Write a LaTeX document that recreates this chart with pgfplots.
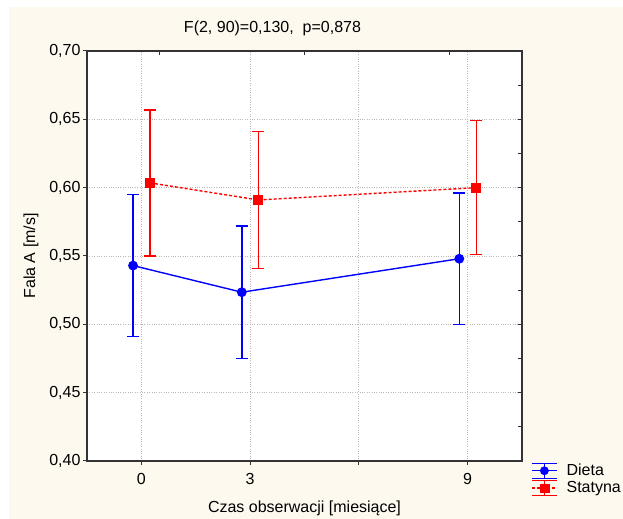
\documentclass[border=0pt]{standalone}
\usepackage{pgfplots}
\pgfplotsset{compat=1.18}
\usepackage{fontspec}
\setmainfont{Liberation Sans}
\definecolor{cream}{RGB}{253,249,239}
\definecolor{gridgray}{RGB}{185,185,185}
\definecolor{myblue}{RGB}{0,0,255}
\definecolor{myred}{RGB}{255,0,0}
\newcommand{\chartfont}{\fontsize{16bp}{19bp}\selectfont}
\begin{document}
\begin{tikzpicture}[x=1bp,y=1bp]
\fill[white] (0,0) rectangle (623,519);
\fill[cream] (9,0) rectangle (623,512);
\node[anchor=base, font=\chartfont] at (272.5,486.3) {F(2, 90)=0,130,\ \ p=0,878};
\begin{axis}[
  at={(87bp,58bp)}, anchor=south west,
  scale only axis, width=435bp, height=410bp,
  xmin=-1.5, xmax=10.5, ymin=0.40, ymax=0.70,
  xtick={0,3,6,9}, xticklabels={0,3,,9},
  ytick={0.40,0.45,0.50,0.55,0.60,0.65,0.70},
  xtick pos=left, ytick pos=left,
  tick align=outside, major tick length=4bp,
  grid=major, major grid style={dotted, gridgray, line width=0.8bp},
  axis line style={black!80, line width=1.3bp},
  tick style={black!80, line width=1bp},
  axis background/.style={fill=white},
  tick label style={font=\chartfont},
  xticklabel style={yshift=-5bp},
  yticklabel style={xshift=1bp},
  label style={font=\chartfont},
  xlabel={Czas obserwacji [miesiące]},
  xlabel style={yshift=-9bp},
  ylabel={Fala A [m/s]},
  ylabel style={yshift=4bp},
  /pgf/number format/.cd, use comma, fixed, fixed zerofill, precision=2, assume math mode=true,
  /pgfplots/.cd,
  legend style={at={(rel axis cs:1,0)}, anchor=north west, xshift=9bp, yshift=-1bp,
    draw=none, fill=none, font=\chartfont, inner sep=0pt, row sep=0.5bp, column sep=7bp,
    nodes={inner sep=2bp}},
  legend cell align=left,
]
\addlegendimage{legend image code/.code={
  \draw[draw=myblue, line width=1.4bp] (0bp,7.5bp) -- (25bp,7.5bp);
  \draw[draw=myblue, line width=1.4bp] (0bp,-7.5bp) -- (25bp,-7.5bp);
  \draw[draw=myblue, line width=1.4bp] (0bp,0bp) -- (25bp,0bp);
  \draw[draw=myblue, line width=1.4bp] (12.5bp,-7.5bp) -- (12.5bp,7.5bp);
  \draw[draw=myblue, mark=*, mark size=4.2bp, mark options={draw=myblue, fill=myblue}] plot coordinates {(12.5bp,0bp)};
}}
\addlegendentry{Dieta}
\addlegendimage{legend image code/.code={
  \draw[draw=myred, line width=1.4bp] (0bp,7.5bp) -- (25bp,7.5bp);
  \draw[draw=myred, line width=1.4bp] (0bp,-7.5bp) -- (25bp,-7.5bp);
  \draw[draw=myred, line width=1.4bp, dash pattern=on 3bp off 2bp] (0bp,0bp) -- (25bp,0bp);
  \draw[draw=myred, line width=1.4bp] (12.5bp,-7.5bp) -- (12.5bp,7.5bp);
  \draw[draw=myred, mark=square*, mark size=4.3bp, mark options={draw=myred, fill=myred}] plot coordinates {(12.5bp,0bp)};
}}
\addlegendentry{Statyna}
\addplot[myblue, line width=1.4bp, mark=*, mark size=4.2bp, mark options={fill=myblue},
  error bars/.cd, y dir=both, y explicit,
  error bar style={line width=1.5bp, draw=myblue},
  error mark options={rotate=90, draw=myblue, line width=1.5bp, mark size=6bp}]
  coordinates {
  (-0.23,0.543) += (0,0.052) -= (0,0.052)
  (2.77,0.5235) += (0,0.0485) -= (0,0.0485)
  (8.77,0.548) += (0,0.048) -= (0,0.048)
  };
\addplot[myred, line width=1.4bp, dash pattern=on 3bp off 2bp, mark=square*, mark size=4.3bp, mark options={solid, fill=myred},
  error bars/.cd, y dir=both, y explicit,
  error bar style={line width=1.5bp, draw=myred, solid},
  error mark options={rotate=90, draw=myred, solid, line width=1.5bp, mark size=6bp}]
  coordinates {
  (0.24,0.6035) += (0,0.0535) -= (0,0.0535)
  (3.23,0.591) += (0,0.050) -= (0,0.050)
  (9.24,0.600) += (0,0.049) -= (0,0.049)
  };
\end{axis}
\begin{axis}[
  at={(87bp,58bp)}, anchor=south west,
  scale only axis, width=435bp, height=410bp,
  xmin=-1.5, xmax=10.5, ymin=0.40, ymax=0.70,
  axis x line*=top, axis y line*=right,
  xtick={0.5,4.5,8.5}, xticklabels={},
  ytick={0.40,0.425,0.45,0.475,0.50,0.525,0.55,0.575,0.60,0.625,0.65,0.675,0.70}, yticklabels={},
  tick align=inside, major tick length=4bp,
  axis line style={black!80, line width=1.3bp, -},
  tick style={black!80, line width=1bp},
]
\end{axis}
\end{tikzpicture}
\end{document}
